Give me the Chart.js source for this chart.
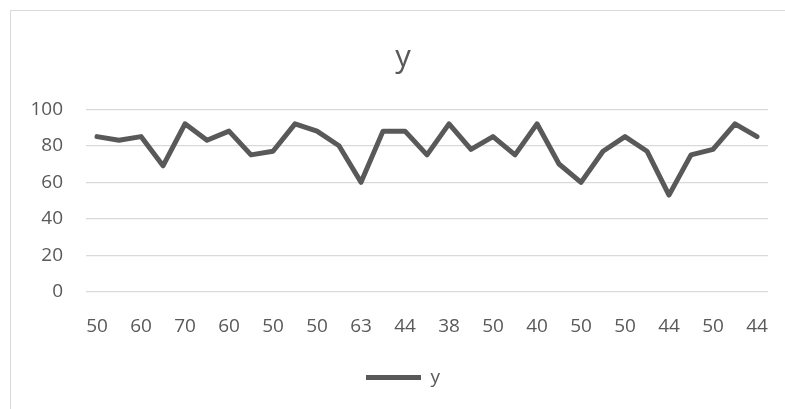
<!DOCTYPE html>
<html>
<head>
<meta charset="utf-8">
<script src="https://cdn.jsdelivr.net/npm/chart.js@4.4.1/dist/chart.umd.min.js"></script>
<style>
  html, body { margin: 0; padding: 0; background: #fff; overflow: hidden; }
  #frame { position: absolute; left: 10px; top: 10px; width: 800px; height: 420px; border: 1px solid #d9d9d9; }
  #wrap { position: absolute; left: 0; top: 0; width: 785px; height: 409px; }
</style>
</head>
<body>
<div id="frame"></div>
<div id="wrap"><canvas id="chart" width="785" height="409"></canvas></div>
<script>
// x categories (only every other one is printed on the axis)
const categories = [
  "50", "44", "60", "50", "70", "63", "60", "40", "50", "44",
  "50", "38", "63", "50", "44", "50", "38", "44", "50", "60",
  "40", "50", "50", "44", "50", "38", "44", "50", "50", "40", "44"
];
const yValues = [
  85, 83, 85, 69, 92, 83, 88, 75, 77, 92,
  88, 80, 60, 88, 88, 75, 92, 78, 85, 75,
  92, 70, 60, 77, 85, 77, 53, 75, 78, 92, 85
];
const yTicks = [0, 20, 40, 60, 80, 100];

const textColor = "#595959";
const gridColor = "#d9d9d9";
const font = "'Open Sans', 'Liberation Sans', sans-serif";

function drawChart() {
  const ctx = document.getElementById("chart").getContext("2d");

  new Chart(ctx, {
    type: "line",
    data: {
      labels: categories,
      datasets: [{
        label: "y",
        data: yValues,
        borderColor: "#595959",
        backgroundColor: "#595959",
        borderWidth: 5,
        borderCapStyle: "round",
        borderJoinStyle: "round",
        pointRadius: 0,
        tension: 0,
        fill: false
      }]
    },
    options: {
      responsive: false,
      animation: false,
      layout: { padding: { left: 38, right: 17, top: 0, bottom: 12 } },
      plugins: {
        title: {
          display: true,
          text: "y",
          color: textColor,
          font: { family: font, size: 31, weight: "normal" },
          padding: { top: 40, bottom: 32 }
        },
        legend: {
          display: true,
          position: "bottom",
          labels: {
            color: textColor,
            font: { family: font, size: 19 },
            usePointStyle: true,
            pointStyle: "line",
            pointStyleWidth: 55,
            padding: 10
          }
        },
        tooltip: { enabled: false }
      },
      scales: {
        x: {
          offset: true,
          grid: { display: false, drawTicks: false },
          border: { display: false },
          ticks: {
            autoSkip: false,
            maxRotation: 0,
            color: textColor,
            font: { family: font, size: 19 },
            padding: 23,
            callback: function (value, index) {
              return index % 2 === 0 ? this.getLabelForValue(value) : "";
            }
          },
          afterFit: function (scale) {
            scale.height = 66;
            scale.paddingLeft = 0;
            scale.paddingRight = 0;
          }
        },
        y: {
          min: 0,
          max: 100,
          afterBuildTicks: function (scale) {
            scale.ticks = yTicks.map(v => ({ value: v }));
          },
          grid: { color: gridColor, lineWidth: 1.3, drawTicks: false },
          border: { display: false },
          ticks: {
            color: textColor,
            font: { family: font, size: 19 },
            padding: 23
          },
          afterFit: function (scale) {
            scale.width = 48;
            // let "100" run past the narrow axis box instead of being clipped
            scale._computeLabelArea = function () { return undefined; };
          }
        }
      }
    }
  });
}

Promise.all([
  document.fonts.load("19px 'Open Sans'"),
  document.fonts.load("31px 'Open Sans'")
]).then(drawChart, drawChart);
</script>
</body>
</html>
